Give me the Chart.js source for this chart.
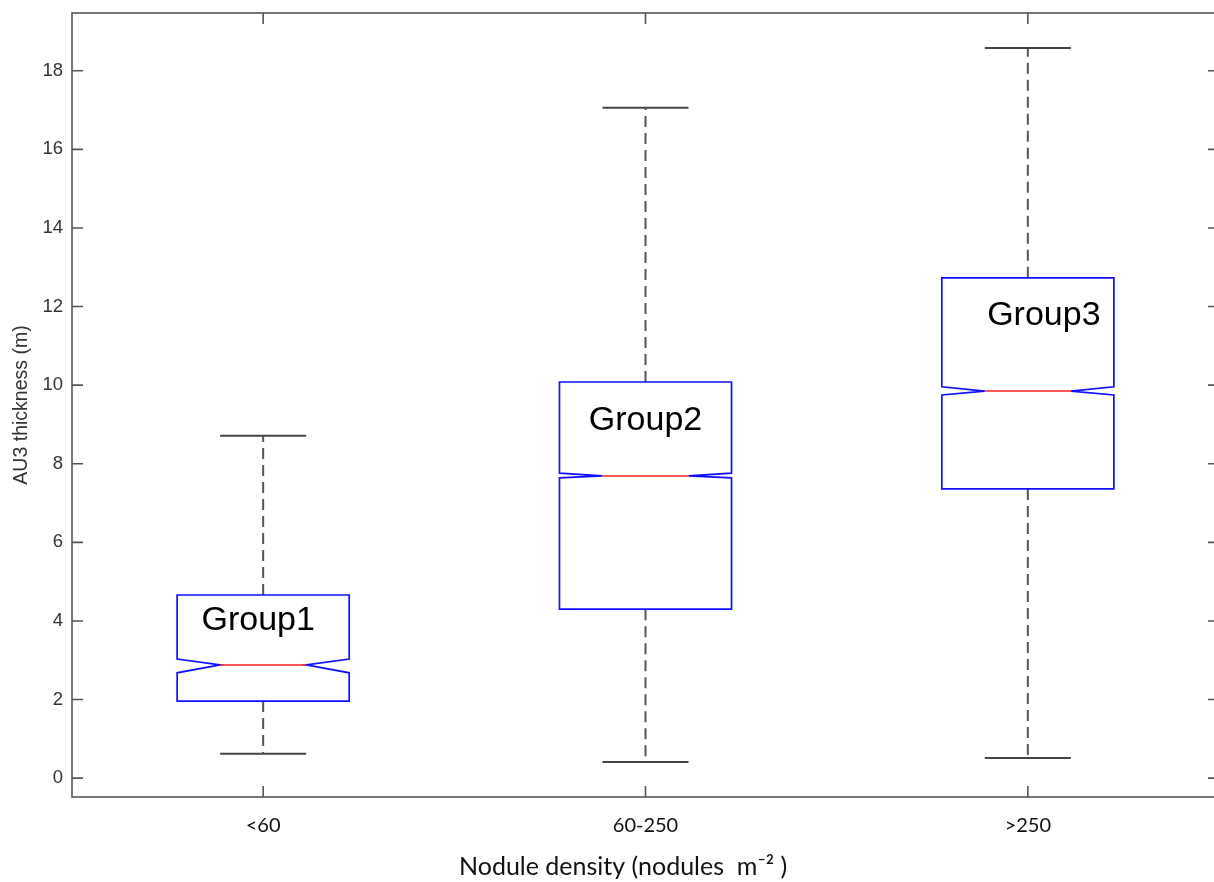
<!DOCTYPE html>
<html>
<head>
  <title>AU3 thickness by nodule density</title>
  <script src="https://cdn.jsdelivr.net/npm/chart.js"></script>
  <style>
    html, body {
      margin: 0;
      padding: 0;
      background: #fff;
      overflow: hidden;
    }

    .chart-container {
      position: relative;
      width: 1222px;
      height: 882px;
    }
  </style>
</head>
<body>
  <div class="chart-container">
    <canvas id="chart"></canvas>
  </div>

  <script>
    // values
    var categories = ['<60', '60-250', '>250'];
    var groupNames = ['Group1', 'Group2', 'Group3'];
    var whiskerLow = [0.62, 0.41, 0.51];
    var q1 = [1.96, 4.30, 7.36];
    var notchLow = [2.68, 7.64, 9.75];
    var median = [2.88, 7.69, 9.85];
    var notchHigh = [3.03, 7.76, 9.96];
    var q3 = [4.66, 10.08, 12.73];
    var whiskerHigh = [8.71, 17.06, 18.58];
    var yTicks = [0, 2, 4, 6, 8, 10, 12, 14, 16, 18];

    // where the group names sit (value on y axis, px shift on x)
    var labelY = [4.02, 9.11, 11.76];
    var labelShift = [-5, 0, 16];

    var boxPlot = {
      id: 'boxPlot',
      afterDatasetsDraw: function (chart) {
        var ctx = chart.ctx;
        var x = chart.scales.x;
        var y = chart.scales.y;
        var step = x.getPixelForValue(1) - x.getPixelForValue(0);
        var half = step * 0.225;
        var notch = half / 2;

        ctx.save();
        for (var i = 0; i < categories.length; i++) {
          var cx = x.getPixelForValue(i);

          // whiskers
          ctx.strokeStyle = '#555';
          ctx.lineWidth = 2;
          ctx.setLineDash([11, 6]);
          ctx.beginPath();
          ctx.moveTo(cx, y.getPixelForValue(q3[i]));
          ctx.lineTo(cx, y.getPixelForValue(whiskerHigh[i]));
          ctx.moveTo(cx, y.getPixelForValue(q1[i]));
          ctx.lineTo(cx, y.getPixelForValue(whiskerLow[i]));
          ctx.stroke();
          ctx.setLineDash([]);

          // caps
          ctx.strokeStyle = '#444';
          ctx.beginPath();
          ctx.moveTo(cx - notch, y.getPixelForValue(whiskerHigh[i]));
          ctx.lineTo(cx + notch, y.getPixelForValue(whiskerHigh[i]));
          ctx.moveTo(cx - notch, y.getPixelForValue(whiskerLow[i]));
          ctx.lineTo(cx + notch, y.getPixelForValue(whiskerLow[i]));
          ctx.stroke();

          // notched box
          var yQ1 = y.getPixelForValue(q1[i]);
          var yQ3 = y.getPixelForValue(q3[i]);
          var yNl = y.getPixelForValue(notchLow[i]);
          var yNh = y.getPixelForValue(notchHigh[i]);
          var yMed = y.getPixelForValue(median[i]);
          ctx.strokeStyle = '#1010ff';
          ctx.lineWidth = 1.7;
          ctx.beginPath();
          ctx.moveTo(cx - half, yQ1);
          ctx.lineTo(cx + half, yQ1);
          ctx.lineTo(cx + half, yNl);
          ctx.lineTo(cx + notch, yMed);
          ctx.lineTo(cx + half, yNh);
          ctx.lineTo(cx + half, yQ3);
          ctx.lineTo(cx - half, yQ3);
          ctx.lineTo(cx - half, yNh);
          ctx.lineTo(cx - notch, yMed);
          ctx.lineTo(cx - half, yNl);
          ctx.closePath();
          ctx.stroke();

          // median
          ctx.strokeStyle = '#ff2020';
          ctx.lineWidth = 1.6;
          ctx.beginPath();
          ctx.moveTo(cx - notch, yMed);
          ctx.lineTo(cx + notch, yMed);
          ctx.stroke();

          // group name
          ctx.fillStyle = '#000';
          ctx.font = '34px "Liberation Sans", Arial, sans-serif';
          ctx.textAlign = 'center';
          ctx.textBaseline = 'middle';
          ctx.fillText(groupNames[i], cx + labelShift[i], y.getPixelForValue(labelY[i]));
        }
        ctx.restore();
      },
      afterDraw: function (chart) {
        var ctx = chart.ctx;
        var a = chart.chartArea;
        var x = chart.scales.x;
        var y = chart.scales.y;
        var len = 11;

        ctx.save();
        ctx.strokeStyle = '#555';
        ctx.lineWidth = 1.6;
        ctx.strokeRect(a.left, a.top, a.right - a.left, a.bottom - a.top);

        ctx.beginPath();
        y.ticks.forEach(function (t) {
          var py = y.getPixelForValue(t.value);
          ctx.moveTo(a.left, py);
          ctx.lineTo(a.left + len, py);
          ctx.moveTo(a.right, py);
          ctx.lineTo(a.right - len, py);
        });
        categories.forEach(function (c, i) {
          var px = x.getPixelForValue(i);
          ctx.moveTo(px, a.bottom);
          ctx.lineTo(px, a.bottom - len);
          ctx.moveTo(px, a.top);
          ctx.lineTo(px, a.top + len);
        });
        ctx.stroke();
        ctx.restore();
      }
    };

    var ctx = document.getElementById('chart').getContext('2d');
    var chart = new Chart(ctx, {
      type: 'bar',
      data: {
        labels: categories,
        datasets: [{
          label: 'Q1-Q3',
          data: q1.map(function (v, i) { return [v, q3[i]]; }),
          backgroundColor: 'rgba(0,0,0,0)',
          borderWidth: 0
        }]
      },
      plugins: [boxPlot],
      options: {
        responsive: true,
        maintainAspectRatio: false,
        animation: false,
        layout: {
          padding: { top: 13, right: 3, left: 0, bottom: 0 }
        },
        plugins: {
          legend: { display: false },
          tooltip: { enabled: false }
        },
        scales: {
          x: {
            type: 'category',
            offset: true,
            grid: { display: false, drawTicks: false },
            border: { display: false },
            ticks: {
              padding: 17,
              color: '#111',
              font: { family: 'Lato, "Open Sans", sans-serif', size: 20 }
            },
            title: {
              display: true,
              text: 'Nodule density (nodules  m\u207B\u00B2 )       ',
              color: '#111',
              font: { family: 'Lato, "Open Sans", sans-serif', size: 25 },
              padding: { top: 2, bottom: 0 }
            },
            afterFit: function (scale) {
              scale.height = 85;
              scale.paddingLeft = 0;
              scale.paddingRight = 0;
            }
          },
          y: {
            min: -0.48,
            max: 19.47,
            grid: { display: false, drawTicks: false },
            border: { display: false },
            afterBuildTicks: function (scale) {
              scale.ticks = yTicks.map(function (v) { return { value: v }; });
            },
            ticks: {
              padding: 9,
              color: '#333',
              font: { family: '"Liberation Sans", Arial, sans-serif', size: 18.5 }
            },
            title: {
              display: true,
              text: 'AU3 thickness (m)',
              color: '#333',
              font: { family: '"Liberation Sans", Arial, sans-serif', size: 19.5 },
              padding: { top: 10, bottom: 0 }
            },
            afterFit: function (scale) {
              scale.width = 72;
              scale.paddingTop = 0;
              scale.paddingBottom = 0;
            }
          }
        }
      }
    });
  </script>
</body>
</html>
